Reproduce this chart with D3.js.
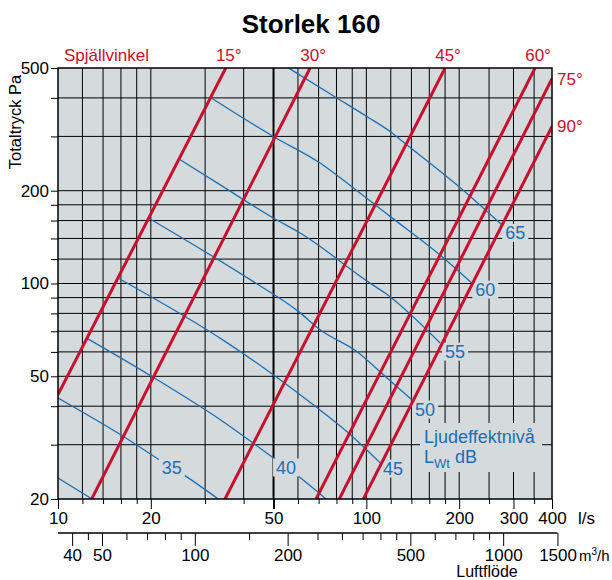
<!DOCTYPE html>
<meta charset='utf-8'>
<title>Storlek 160</title>
<style>
  body { margin: 0; background: #fff; }
  svg { display: block; font-family: 'Liberation Sans', Arial, Helvetica, sans-serif; }
</style>
<body>
<script src='https://cdn.jsdelivr.net/npm/d3@7'></script>
<script>

  // luftflöde l/s och totaltryck Pa
  var xGrid = [10, 12, 14, 16, 18, 20, 30, 40, 50, 60, 70, 80, 90, 100, 120, 140, 160, 180, 200, 250, 300, 350, 400]
  var xLabels = [10, 20, 50, 100, 200, 300, 400]
  var yGrid = [20, 30, 40, 50, 60, 70, 80, 90, 100, 120, 140, 160, 180, 200, 300, 400, 500]
  var yLabels = [20, 50, 100, 200, 500]
  var m3hTicks = [40, 45, 50, 60, 70, 80, 90, 100, 150, 200, 250, 300, 350, 400, 450, 500, 600, 700, 800, 900, 1000, 1500]
  var m3hLabels = [40, 50, 100, 200, 500, 1000, 1500]

  // spjällvinkel, ändpunkter [l/s, Pa]
  var dampers = ['15°', '30°', '45°', '60°', '75°', '90°']
  var damperLines = [
    [[10, 43.6], [35.0, 500]],
    [[12.86, 20], [65.7, 500]],
    [[34.8, 20], [180, 500]],
    [[68.7, 20], [352.5, 500]],
    [[81.7, 20], [400, 461.6]],
    [[97.8, 20], [400, 323.2]]
  ]

  // ljudeffektnivå LWt dB
  var levels = [30, 35, 40, 45, 50, 55, 60, 65]
  var levelLines = [
    [[10, 23.4], [12.9, 20]],
    [[10, 42.5], [16.3, 31.9], [21.7, 26.5], [25.5, 24.0], [33.1, 20]],
    [[12.5, 66.1], [20.1, 50.0], [34.8, 35.3], [49.9, 27.2], [60.2, 23.7], [74.0, 20]],
    [[15.8, 103.6], [34.8, 64.9], [49.9, 50.6], [67.3, 40.4], [86.4, 33.1], [110.8, 26.2]],
    [[19.9, 161.9], [42.0, 102.9], [60.2, 81.2], [70.8, 70.8], [93.1, 60.2], [115.0, 50.0], [140.4, 42.0]],
    [[24.9, 252.1], [33.5, 209.2], [49.9, 163.1], [61.0, 145.8], [102.8, 100.3], [115.0, 93.1], [173.4, 64.1]],
    [[31.4, 399.7], [49.9, 299.9], [70.8, 245.9], [90.8, 204.1], [119.4, 165.1], [175.7, 122.4], [219.8, 100.3]],
    [[55.9, 500], [80.2, 399.7], [100.3, 348.2], [119.4, 311.3], [135.2, 281.8], [214.2, 194.1], [245.8, 171.4], [274.9, 155.1]]
  ]
  var labelLevels = [35, 40, 45, 50, 55, 60, 65]
  var labelAt = [[23.4, 25.3], [54.9, 25.3], [122, 25.1], [155, 39.0], [194, 60.1], [243, 95.5], [304, 146]]

  var width = 612, height = 580
  var pLeft = 58, pRight = 552, pTop = 68, pBottom = 499

  var x = d3.scaleLog().domain([10, 400]).range([pLeft, pRight])
  var y = d3.scaleLog().domain([20, 500]).range([pBottom, pTop])
  var x2 = d3.scaleLog().domain([36, 1440]).range([pLeft, pRight])

  var red = '#c8102e', blue = '#1a6fb5', plotBg = '#d5dadd'

  var svg = d3.select('body').append('svg')
    .attr('width', width)
    .attr('height', height)

  svg.append('defs').append('clipPath').attr('id', 'plot')
    .append('rect')
    .attr('x', pLeft).attr('y', pTop)
    .attr('width', pRight - pLeft).attr('height', pBottom - pTop)

  svg.append('rect')
    .attr('x', pLeft).attr('y', pTop)
    .attr('width', pRight - pLeft).attr('height', pBottom - pTop)
    .attr('fill', plotBg)

  /* ------- GRID -------*/
  var grid = svg.append('g').attr('stroke', '#000')
  grid.selectAll('line.v')
    .data(xGrid.slice(1, -1))
    .enter().append('line')
    .attr('class', 'v')
    .attr('x1', function(d) { return x(d) }).attr('x2', function(d) { return x(d) })
    .attr('y1', pTop).attr('y2', pBottom)
    .attr('stroke-width', function(d) { return d === 50 ? 2 : 1 })
  grid.selectAll('line.h')
    .data(yGrid.slice(1, -1))
    .enter().append('line')
    .attr('class', 'h')
    .attr('y1', function(d) { return y(d) }).attr('y2', function(d) { return y(d) })
    .attr('x1', pLeft).attr('x2', pRight)
    .attr('stroke-width', 1)

  var line = d3.line()
    .x(function(d) { return x(d[0]) })
    .y(function(d) { return y(d[1]) })

  /* ------- LJUDEFFEKT -------*/
  svg.append('g').attr('clip-path', 'url(#plot)')
    .selectAll('path')
    .data(levelLines)
    .enter().append('path')
    .attr('d', line.curve(d3.curveMonotoneX))
    .attr('fill', 'none')
    .attr('stroke', blue)
    .attr('stroke-width', 1.3)

  var lab = svg.append('g')
    .attr('font-size', 18)
    .attr('fill', blue)
  lab.selectAll('rect')
    .data(labelAt)
    .enter().append('rect')
    .attr('x', function(d) { return x(d[0]) - 13 })
    .attr('y', function(d) { return y(d[1]) - 9 })
    .attr('width', 26).attr('height', 18)
    .attr('fill', plotBg)
  lab.selectAll('text')
    .data(labelAt)
    .enter().append('text')
    .attr('x', function(d) { return x(d[0]) })
    .attr('y', function(d) { return y(d[1]) })
    .attr('dy', '0.36em')
    .attr('text-anchor', 'middle')
    .text(function(d, i) { return labelLevels[i] })

  lab.append('rect')
    .attr('x', 420).attr('y', 423)
    .attr('width', 122).attr('height', 49)
    .attr('fill', plotBg)
  lab.append('text')
    .attr('x', 424).attr('y', 443)
    .text('Ljudeffektnivå')
  var lw = lab.append('text').attr('x', 424).attr('y', 463)
  lw.append('tspan').text('L')
  lw.append('tspan').attr('font-size', 13).attr('dy', 5).text('Wt')
  lw.append('tspan').attr('dy', -5).text(' dB')

  /* ------- SPJÄLLVINKEL -------*/
  line.curve(d3.curveLinear)
  svg.append('g').attr('clip-path', 'url(#plot)')
    .selectAll('path')
    .data(damperLines)
    .enter().append('path')
    .attr('d', line)
    .attr('fill', 'none')
    .attr('stroke', red)
    .attr('stroke-width', 3)

  var dl = svg.append('g').attr('fill', red).attr('font-size', 17)
  dl.append('text').attr('x', 64).attr('y', 61).text('Spjällvinkel')
  dl.selectAll('text.ang')
    .data(damperLines)
    .enter().append('text')
    .attr('class', 'ang')
    .attr('x', function(d) { var e = d[1]; return e[1] >= 500 ? x(e[0]) + 3 : pRight + 5 })
    .attr('y', function(d) { var e = d[1]; return e[1] >= 500 ? 61 : y(e[1]) + 6 })
    .attr('text-anchor', function(d) { return d[1][1] >= 500 ? 'middle' : 'start' })
    .text(function(d, i) { return dampers[i] })

  /* ------- RAM OCH AXLAR -------*/
  svg.append('rect')
    .attr('x', pLeft).attr('y', pTop)
    .attr('width', pRight - pLeft).attr('height', pBottom - pTop)
    .attr('fill', 'none')
    .attr('stroke', '#000')
    .attr('stroke-width', 1.5)

  var yAxis = svg.append('g')
    .attr('transform', 'translate(' + pLeft + ',0)')
    .call(d3.axisLeft(y).tickValues(yGrid).tickSize(7).tickPadding(2)
      .tickFormat(function(d) { return yLabels.indexOf(d) >= 0 ? d : '' }))
  yAxis.select('.domain').remove()
  yAxis.selectAll('text').attr('font-size', 17).attr('font-family', null).attr('fill', '#000')
  yAxis.selectAll('line').attr('stroke', '#000')

  var xAxis = svg.append('g')
    .attr('transform', 'translate(0,' + pBottom + ')')
    .call(d3.axisBottom(x).tickValues(xGrid).tickSize(5)
      .tickFormat(function(d) { return xLabels.indexOf(d) >= 0 ? d : '' }))
  xAxis.select('.domain').remove()
  xAxis.selectAll('.tick line')
    .attr('y2', function(d) { return xLabels.indexOf(d) >= 0 ? 10 : 5 })
    .attr('stroke-width', function(d) { return d === 50 ? 2 : 1 })
  xAxis.selectAll('text').attr('y', 13).attr('font-size', 17).attr('font-family', null).attr('fill', '#000')

  var mAxis = svg.append('g')
    .attr('transform', 'translate(0,533)')
    .call(d3.axisBottom(x2).tickValues(m3hTicks).tickSize(7)
      .tickFormat(function(d) { return m3hLabels.indexOf(d) >= 0 ? d : '' }))
  mAxis.select('.domain').remove()
  mAxis.append('line')
    .attr('x1', x2(36)).attr('x2', x2(1500))
    .attr('stroke', '#000').attr('stroke-width', 1.5)
  mAxis.selectAll('.tick line')
    .attr('y2', function(d) { return m3hLabels.indexOf(d) >= 0 ? 13 : 7 })
  mAxis.selectAll('text').attr('y', 16).attr('font-size', 17).attr('font-family', null).attr('fill', '#000')
  mAxis.selectAll('.tick text').filter(function(d) { return d === 1500 })
    .attr('text-anchor', 'end').attr('x', 19)

  svg.append('text').attr('x', 578).attr('y', 524).attr('font-size', 17).text('l/s')
  var m3 = svg.append('text').attr('x', 579).attr('y', 561).attr('font-size', 15)
  m3.append('tspan').text('m')
  m3.append('tspan').attr('font-size', 10).attr('dy', -6).text('3')
  m3.append('tspan').attr('dy', 6).text('/h')
  svg.append('text').attr('x', 487).attr('y', 577).attr('font-size', 16)
    .attr('text-anchor', 'middle').text('Luftflöde')

  svg.append('text')
    .attr('transform', 'translate(21,122) rotate(-90)')
    .attr('font-size', 16.5)
    .attr('text-anchor', 'middle')
    .text('Totaltryck Pa')

  svg.append('text')
    .attr('x', 311).attr('y', 33)
    .attr('font-size', 26).attr('font-weight', 'bold')
    .attr('text-anchor', 'middle')
    .text('Storlek 160')

</script>
</body>
